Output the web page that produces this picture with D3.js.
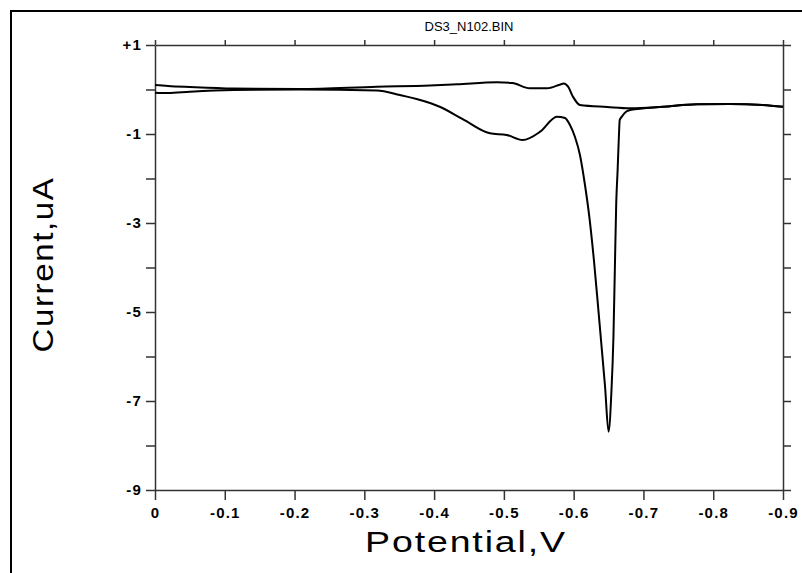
<!DOCTYPE html>
<html><head><meta charset="utf-8">
<script src="https://cdn.jsdelivr.net/npm/d3@7"></script>
<style>
body{margin:0;background:#fff;}
svg{display:block;font-family:"Liberation Sans",Arial,sans-serif;}
.tl{font-size:15px !important;font-weight:bold;fill:#000;font-family:"Liberation Sans",Arial,sans-serif;letter-spacing:1.2px;}
</style></head>
<body><svg id="c" width="802" height="573"></svg>
<script>
const title = "DS3_N102.BIN";
const xLabel = "Potential,V";
const yLabel = "Current,uA";
const xTickValues = [0,-0.1,-0.2,-0.3,-0.4,-0.5,-0.6,-0.7,-0.8,-0.9];
const xTickLabels = ["0","-0.1","-0.2","-0.3","-0.4","-0.5","-0.6","-0.7","-0.8","-0.9"];
const yTickValues = [1,0,-1,-2,-3,-4,-5,-6,-7,-8,-9];
const yTickLabels = ["+1","","-1","","-3","","-5","","-7","","-9"];

// forward scan (lower curve with stripping peak)
const fwdV = [0,-0.0186,-0.050,-0.112,-0.208,-0.318,-0.351,-0.380,-0.408,-0.441,-0.480,-0.504,-0.527,-0.552,-0.576,-0.5876,-0.5947,-0.6019,-0.609,-0.616,-0.623,-0.629,-0.635,-0.640,-0.645,-0.650,-0.654,-0.657,-0.659,-0.661,-0.663,-0.665,-0.666,-0.669,-0.675,-0.681,-0.728,-0.777,-0.824,-0.871,-0.900];
const fwdI = [-0.072,-0.079,-0.049,-0.011,0.0,-0.022,-0.124,-0.236,-0.387,-0.665,-0.984,-1.022,-1.135,-0.948,-0.611,-0.640,-0.798,-1.067,-1.472,-2.124,-2.933,-3.831,-4.881,-5.780,-6.679,-7.690,-6.820,-5.555,-4.056,-2.551,-1.809,-0.978,-0.685,-0.611,-0.50,-0.461,-0.387,-0.333,-0.326,-0.348,-0.387];
// reverse scan (upper curve)
const revV = [0,-0.0186,-0.050,-0.112,-0.208,-0.318,-0.394,-0.433,-0.490,-0.512,-0.537,-0.562,-0.580,-0.586,-0.592,-0.599,-0.609,-0.648,-0.681,-0.728,-0.777,-0.824,-0.871,-0.900];
const revI = [0.101,0.079,0.056,0.022,0.011,0.063,0.090,0.117,0.162,0.146,0.027,0.027,0.108,0.135,0.063,-0.162,-0.348,-0.393,-0.422,-0.387,-0.333,-0.326,-0.348,-0.387];

const svg = d3.select("#c");
const L=155,R=783,T=45,B=490;
const x = d3.scaleLinear().domain([0,-0.9]).range([L,R]);
const y = d3.scaleLinear().domain([-9,1]).range([B,T]);

// outer frame (left & top visible)
svg.append("rect").attr("x",11).attr("y",11).attr("width",820).attr("height",600)
  .attr("fill","none").attr("stroke","#000").attr("stroke-width",2);

const axStyle = g => { g.select(".domain").attr("stroke","#333").attr("stroke-width",1.5);
  g.selectAll(".tick line").attr("stroke","#333").attr("stroke-width",1.5); };

// bottom axis
svg.append("g").attr("transform",`translate(0,${B})`)
  .call(d3.axisBottom(x).tickValues(xTickValues).tickSize(10).tickSizeOuter(0)
    .tickFormat((d,i)=>xTickLabels[i]))
  .call(axStyle)
  .call(g=>g.selectAll("text").attr("class","tl").attr("dy","1.0em"));
// top axis
svg.append("g").attr("transform",`translate(0,${T})`)
  .call(d3.axisTop(x).tickValues(xTickValues).tickSize(5).tickSizeOuter(0).tickFormat(""))
  .call(axStyle);
// left axis
svg.append("g").attr("transform",`translate(${L},0)`)
  .call(d3.axisLeft(y).tickValues(yTickValues).tickSize(9).tickSizeOuter(0)
    .tickFormat((d,i)=>yTickLabels[i]))
  .call(axStyle)
  .call(g=>g.selectAll("text").attr("class","tl").attr("x",-13));
// right axis
svg.append("g").attr("transform",`translate(${R},0)`)
  .call(d3.axisRight(y).tickValues(yTickValues).tickSize(8).tickSizeOuter(0).tickFormat(""))
  .call(axStyle);

const line = d3.line().x(d=>x(d[0])).y(d=>y(d[1])).curve(d3.curveMonotoneX);
svg.append("path").datum(fwdV.map((v,i)=>[v,fwdI[i]]))
  .attr("d",line).attr("fill","none").attr("stroke","#000").attr("stroke-width",2);
svg.append("path").datum(revV.map((v,i)=>[v,revI[i]]))
  .attr("d",line).attr("fill","none").attr("stroke","#000").attr("stroke-width",2);

svg.append("text").attr("x",(L+R)/2).attr("y",31).attr("text-anchor","middle")
  .attr("font-size",13).text(title);
svg.append("text").attr("transform",`translate(${(L+R)/2-3},552) scale(1.25,1)`).attr("text-anchor","middle")
  .attr("font-size",30).attr("letter-spacing","1.5px").text(xLabel);
svg.append("text").attr("transform",`translate(53,${(T+B)/2-3}) rotate(-90) scale(1.1,1)`).attr("text-anchor","middle")
  .attr("font-size",30).attr("letter-spacing","1.5px").text(yLabel);
</script></body></html>
